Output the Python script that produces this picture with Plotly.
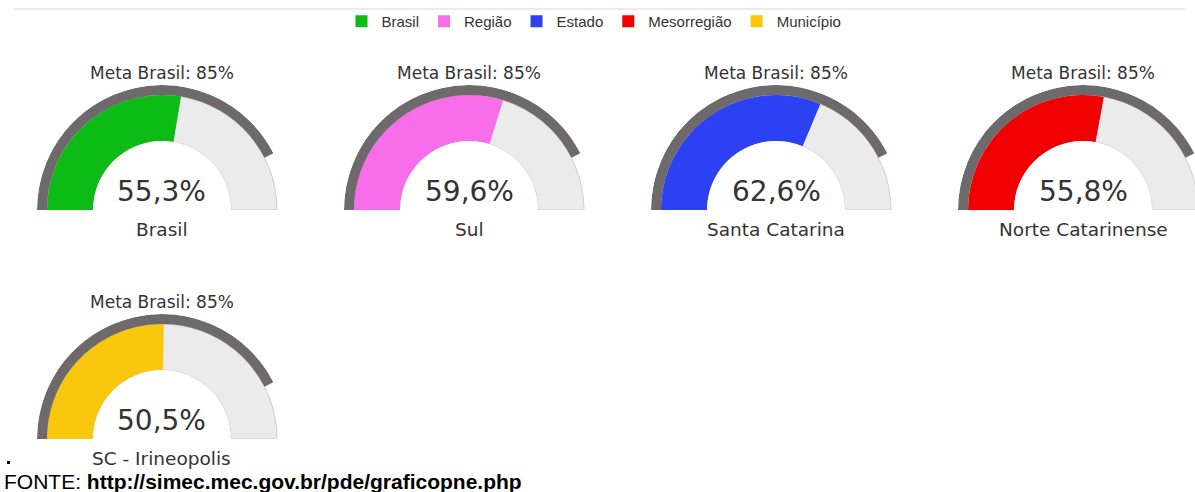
import plotly.graph_objects as go

# ---------------- data ----------------
categories = ["Brasil", "Região", "Estado", "Mesorregião", "Município"]
places = ["Brasil", "Sul", "Santa Catarina", "Norte Catarinense", "SC - Irineopolis"]
values = [55.3, 59.6, 62.6, 55.8, 50.5]
meta_brasil = 85
scale_max = 100
colors = ["#0dbb16", "#f86eea", "#2b41f3", "#f00000", "#f9c70d"]

# ---------------- layout / style ----------------
W, H = 1220, 492     # figure is a bit wider than the 1195px window: last gauge is cut by the edge
centers_x = [162, 469, 776, 1083, 162]
baselines = [210, 210, 210, 210, 439]
R_OUT = 125          # outer radius of the goal band (px)
R_FILL = 115         # outer radius of value/background arc (px)
R_IN = 69            # inner radius (px)
HOLE = R_IN / R_OUT
FILL_R = (R_FILL - R_IN) / (R_OUT - R_IN)   # radial-axis units (0..1)
BAND_COLOR = "#6e6a6c"
BG_COLOR = "#ebebeb"
BG_LINE = "#cdcdcd"
TXT = "#333333"
GAUGE_FONT = "DejaVu Sans"


def deg(v):
    """angular scale: 0..scale_max -> 0..180 degrees"""
    return v / scale_max * 180.0


fig = go.Figure()
layout_polars = {}

for i, (cat, place, v, col) in enumerate(zip(categories, places, values, colors)):
    sp = "polar" if i == 0 else f"polar{i + 1}"
    # background (full scale)
    fig.add_trace(go.Barpolar(
        r=[FILL_R], base=[0], theta=[deg(scale_max) / 2], width=[deg(scale_max)],
        marker=dict(color=BG_COLOR, line=dict(color=BG_LINE, width=1)),
        subplot=sp, showlegend=False, hoverinfo="skip"))
    # value
    fig.add_trace(go.Barpolar(
        r=[FILL_R], base=[0], theta=[deg(v) / 2], width=[deg(v)],
        marker=dict(color=col, line=dict(color=col, width=0)),
        name=cat, subplot=sp, showlegend=True, hoverinfo="skip"))
    # goal band (Meta Brasil)
    fig.add_trace(go.Barpolar(
        r=[1 - FILL_R], base=[FILL_R], theta=[deg(meta_brasil) / 2], width=[deg(meta_brasil)],
        marker=dict(color=BAND_COLOR, line=dict(color=BAND_COLOR, width=0)),
        subplot=sp, showlegend=False, hoverinfo="skip"))

    cx, b = centers_x[i], baselines[i]
    layout_polars[sp] = dict(
        domain=dict(x=[(cx - R_OUT) / W, (cx + R_OUT) / W],
                    y=[(H - b) / H, (H - b + R_OUT) / H]),
        sector=[0, 180], hole=HOLE, bgcolor="rgba(0,0,0,0)", barmode="overlay",
        radialaxis=dict(visible=False, range=[0, 1]),
        angularaxis=dict(visible=False, rotation=180, direction="clockwise"),
    )

annotations = []
for i, (place, v) in enumerate(zip(places, values)):
    cx, b = centers_x[i], baselines[i]
    annotations.append(dict(
        x=cx / W, y=(H - (b - 137)) / H, xref="paper", yref="paper",
        text=f"Meta Brasil: {meta_brasil}%", showarrow=False,
        xanchor="center", yanchor="middle",
        font=dict(family=GAUGE_FONT, size=17, color=TXT)))
    annotations.append(dict(
        x=cx / W, y=(H - (b - 19)) / H, xref="paper", yref="paper",
        text=f"{v:.1f}".replace(".", ",") + "%", showarrow=False,
        xanchor="center", yanchor="middle",
        font=dict(family=GAUGE_FONT, size=28, color=TXT)))
    annotations.append(dict(
        x=cx / W, y=(H - (b + 19)) / H, xref="paper", yref="paper",
        text=place, showarrow=False, xanchor="center", yanchor="middle",
        font=dict(family=GAUGE_FONT, size=18.5, color=TXT)))

annotations.append(dict(
    x=2 / W, y=(H - 481) / H, xref="paper", yref="paper",
    text="FONTE: <b>http://simec.mec.gov.br/pde/graficopne.php</b>",
    showarrow=False, xanchor="left", yanchor="middle",
    font=dict(family="Arial, Liberation Sans", size=21, color="#000000")))

shapes = [
    dict(type="line", xref="paper", yref="paper",
         x0=13 / W, x1=1185 / W, y0=(H - 9) / H, y1=(H - 9) / H,
         line=dict(color="#e4e4e4", width=1.5)),
    dict(type="rect", xref="paper", yref="paper",
         x0=7 / W, x1=10 / W, y0=(H - 464) / H, y1=(H - 461) / H,
         fillcolor="#000000", line=dict(width=0)),
]

fig.update_layout(
    width=W, height=H,
    margin=dict(l=0, r=0, t=0, b=0),
    paper_bgcolor="white", plot_bgcolor="white",
    showlegend=True,
    legend=dict(orientation="h", x=594 / W, xanchor="center",
                y=1 - 5 / H, yanchor="top", itemwidth=30,
                font=dict(family="Arial, Liberation Sans", size=15, color="#333333"),
                bgcolor="rgba(0,0,0,0)"),
    annotations=annotations,
    shapes=shapes,
    **layout_polars,
)

fig.write_html(
    "out.html",
    config=dict(displayModeBar=False),
    post_script="document.body.style.margin='0';document.body.style.overflow='hidden';",
)
